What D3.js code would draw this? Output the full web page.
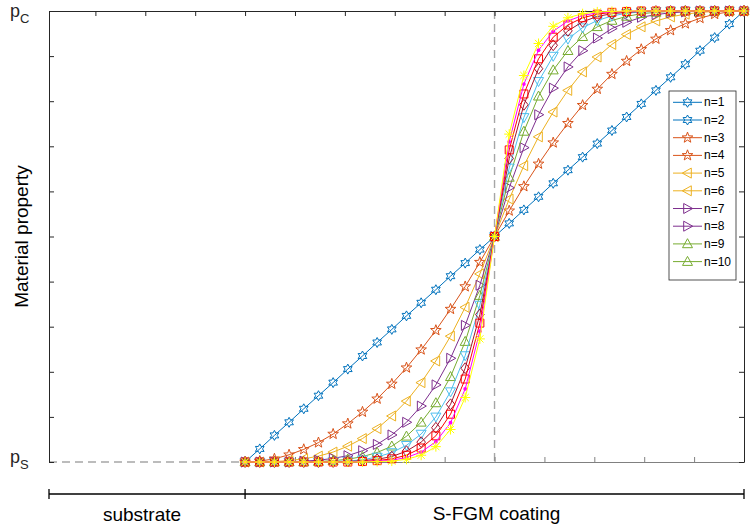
<!DOCTYPE html>
<html>
<head>
<meta charset="utf-8">
<script src="https://cdn.jsdelivr.net/npm/d3@7"></script>
<style>
  html, body { margin: 0; padding: 0; background: #fff; }
  svg { display: block; font-family: "Liberation Sans", Arial, sans-serif; }
</style>
</head>
<body>
<svg id="chart" width="755" height="528"></svg>
<script>
// Normalised position through the S-FGM coating thickness
const positions = [0, 0.0294, 0.0588, 0.0882, 0.1176, 0.1471, 0.1765, 0.2059, 0.2353, 0.2647,
  0.2941, 0.3235, 0.3529, 0.3824, 0.4118, 0.4412, 0.4706, 0.5, 0.5294, 0.5588, 0.5882, 0.6176,
  0.6471, 0.6765, 0.7059, 0.7353, 0.7647, 0.7941, 0.8235, 0.8529, 0.8824, 0.9118, 0.9412, 0.9706, 1];

// Normalised material property (0 = p_S, 1 = p_C) for each sigmoid exponent
const n1Values = [0, .029, .059, .088, .118, .147, .176, .206, .235, .265, .294, .324, .353, .382, .412, .441, .471, .5,
  .529, .559, .588, .618, .647, .676, .706, .735, .765, .794, .824, .853, .882, .912, .941, .971, 1];
const n2Values = [0, .002, .007, .016, .028, .043, .062, .085, .111, .140, .173, .209, .249, .292, .339, .389, .443, .5,
  .557, .611, .661, .708, .751, .791, .827, .860, .889, .915, .938, .957, .972, .984, .993, .998, 1];
const n3Values = [0, 0, .001, .003, .007, .013, .022, .035, .052, .074, .102, .135, .176, .224, .279, .343, .417, .5,
  .583, .657, .721, .776, .824, .865, .898, .926, .948, .965, .978, .987, .993, .997, .999, 1, 1];
const n4Values = [0, 0, 0, 0, .002, .004, .008, .014, .025, .039, .060, .088, .124, .171, .230, .303, .392, .5,
  .608, .697, .770, .829, .876, .912, .940, .961, .975, .986, .992, .996, .998, 1, 1, 1, 1];
const n5Values = [0, 0, 0, 0, 0, .001, .003, .006, .012, .021, .035, .057, .088, .131, .189, .267, .369, .5,
  .631, .733, .811, .869, .912, .943, .965, .979, .988, .994, .997, .999, 1, 1, 1, 1, 1];
const n6Values = [0, 0, 0, 0, 0, 0, .001, .002, .005, .011, .021, .037, .062, .100, .156, .236, .348, .5,
  .652, .764, .844, .900, .938, .963, .979, .989, .995, .998, .999, 1, 1, 1, 1, 1, 1];
const n7Values = [0, 0, 0, 0, 0, 0, 0, .001, .003, .006, .012, .024, .044, .076, .128, .208, .327, .5,
  .673, .792, .872, .924, .956, .976, .988, .994, .997, .999, 1, 1, 1, 1, 1, 1, 1];
const n8Values = [0, 0, 0, 0, 0, 0, 0, 0, .001, .003, .007, .015, .031, .058, .106, .184, .308, .5,
  .692, .816, .894, .942, .969, .985, .993, .997, .999, 1, 1, 1, 1, 1, 1, 1, 1];
const n9Values = [0, 0, 0, 0, 0, 0, 0, 0, .001, .002, .004, .010, .022, .045, .087, .162, .290, .5,
  .710, .838, .913, .955, .978, .990, .996, .998, .999, 1, 1, 1, 1, 1, 1, 1, 1];
const n10Values = [0, 0, 0, 0, 0, 0, 0, 0, 0, .001, .002, .006, .015, .034, .072, .143, .273, .5,
  .727, .857, .928, .966, .985, .994, .998, .999, 1, 1, 1, 1, 1, 1, 1, 1, 1];

const seriesValues = [n1Values, n2Values, n3Values, n4Values, n5Values,
  n6Values, n7Values, n8Values, n9Values, n10Values];
const seriesColors = ["#0072BD", "#D95319", "#EDB120", "#7E2F8E", "#77AC30",
  "#4DBEEE", "#A2142F", "#FF0000", "#FF00FF", "#FFFF00"];
const seriesMarkers = ["hexagram", "pentagram", "left", "right", "up",
  "down", "diamond", "square", "dot", "asterisk"];

// Legend entries (colours/markers come in pairs)
const legendLabels = ["n=1", "n=2", "n=3", "n=4", "n=5", "n=6", "n=7", "n=8", "n=9", "n=10"];
const legendStyle = [0, 0, 1, 1, 2, 2, 3, 3, 4, 4];

const xTickValues = [-0.3, -0.2, -0.1, 0, 0.1, 0.2, 0.3, 0.4, 0.5, 0.6, 0.7, 0.8, 0.9, 1];
const coatTickValues = [0, 0.1, 0.2, 0.3, 0.4, 0.5, 0.6, 0.7, 0.8, 0.9, 1];
const yTickValues = [0, 0.1, 0.2, 0.3, 0.4, 0.5, 0.6, 0.7, 0.8, 0.9, 1];
const xStart = -0.393;

const svg = d3.select("#chart");
const x = d3.scaleLinear().domain([xStart, 1]).range([49, 744]);
const y = d3.scaleLinear().domain([0, 1]).range([462, 11]);
const axisColor = "#262626";

function starPath(points, R, r) {
  const pts = [];
  for (let k = 0; k < points * 2; k++) {
    const a = -Math.PI / 2 + k * Math.PI / points;
    const rad = k % 2 === 0 ? R : r;
    pts.push([rad * Math.cos(a), rad * Math.sin(a)]);
  }
  return "M" + pts.map(p => p[0].toFixed(2) + "," + p[1].toFixed(2)).join("L") + "Z";
}
function markerPath(type) {
  switch (type) {
    case "hexagram": return starPath(6, 5, 2.8);
    case "pentagram": return starPath(5, 5.6, 2.3);
    case "up": return "M0,-5.2L5,3.8L-5,3.8Z";
    case "down": return "M0,5.2L5,-3.8L-5,-3.8Z";
    case "left": return "M-5.2,0L3.8,-5L3.8,5Z";
    case "right": return "M5.2,0L-3.8,-5L-3.8,5Z";
    case "diamond": return "M0,-5.4L4.3,0L0,5.4L-4.3,0Z";
    case "square": return "M-4,-4L4,-4L4,4L-4,4Z";
    case "asterisk": return "M-5,0L5,0M0,-5L0,5M-3.6,-3.6L3.6,3.6M-3.6,3.6L3.6,-3.6";
    default: return "";
  }
}
function drawMarker(g, type, color) {
  if (type === "dot") {
    g.append("circle").attr("r", 1.9).attr("fill", color);
  } else {
    g.append("path").attr("d", markerPath(type))
      .attr("fill", "none").attr("stroke", color).attr("stroke-width", 1);
  }
}

// Reference dashed lines: substrate level and coating mid-plane
svg.append("line")
  .attr("x1", x(xStart)).attr("x2", x(0)).attr("y1", y(0)).attr("y2", y(0))
  .attr("stroke", "#a6a6a6").attr("stroke-width", 1.4).attr("stroke-dasharray", "8,5");
svg.append("line")
  .attr("x1", x(0.5)).attr("x2", x(0.5)).attr("y1", y(1)).attr("y2", y(0))
  .attr("stroke", "#a6a6a6").attr("stroke-width", 1.4).attr("stroke-dasharray", "8,5");

// Axes frame with inward ticks and no tick labels
function styleAxis(g, color) {
  g.selectAll("path.domain").attr("stroke", color).attr("stroke-width", 1);
  g.selectAll(".tick line").attr("stroke", color).attr("stroke-width", 1);
  g.selectAll(".tick text").remove();
}
const coatScale = d3.scaleLinear().domain([0, 1]).range([x(0), x(1)]);
svg.append("g").attr("transform", `translate(0,${y(0)})`)
  .call(d3.axisBottom(coatScale).tickValues(coatTickValues).tickSize(-5).tickSizeOuter(0).tickFormat(""))
  .call(g => styleAxis(g, "#808080"));
svg.append("g").attr("transform", `translate(0,${y(1)})`)
  .call(d3.axisTop(x).tickValues(xTickValues).tickSize(-5).tickSizeOuter(0).tickFormat(""))
  .call(g => styleAxis(g, axisColor));
svg.append("g").attr("transform", `translate(${x(xStart)},0)`)
  .call(d3.axisLeft(y).tickValues(yTickValues).tickSize(-5).tickSizeOuter(0).tickFormat(""))
  .call(g => styleAxis(g, axisColor));
svg.append("g").attr("transform", `translate(${x(1)},0)`)
  .call(d3.axisRight(y).tickValues(yTickValues).tickSize(-5).tickSizeOuter(0).tickFormat(""))
  .call(g => styleAxis(g, axisColor));

// Property profiles
const line = d3.line().x((d, i) => x(positions[i])).y(d => y(d));
seriesValues.forEach((vals, s) => {
  const g = svg.append("g").attr("class", "series");
  g.append("path").datum(vals).attr("d", line)
    .attr("fill", "none").attr("stroke", seriesColors[s]).attr("stroke-width", 1);
  vals.forEach((v, i) => {
    const m = g.append("g").attr("transform", `translate(${x(positions[i])},${y(v)})`);
    drawMarker(m, seriesMarkers[s], seriesColors[s]);
  });
});

// Legend
const legend = svg.append("g").attr("transform", "translate(669,91)");
legend.append("rect").attr("width", 67).attr("height", 189)
  .attr("fill", "#fff").attr("stroke", axisColor).attr("stroke-width", 0.8);
legendLabels.forEach((label, i) => {
  const row = legend.append("g").attr("transform", `translate(0,${11.3 + i * 17.7})`);
  const st = legendStyle[i];
  row.append("line").attr("x1", 4).attr("x2", 33).attr("y1", 0).attr("y2", 0)
    .attr("stroke", seriesColors[st]).attr("stroke-width", 1);
  const m = row.append("g").attr("transform", "translate(18.5,0)");
  drawMarker(m, seriesMarkers[st], seriesColors[st]);
  row.append("text").attr("x", 35).attr("y", 4).attr("font-size", 12)
    .attr("fill", "#000").text(label);
});

// Property level labels
const pc = svg.append("text").attr("x", 10).attr("y", 17).attr("fill", axisColor).attr("font-size", 18);
pc.append("tspan").text("p");
pc.append("tspan").attr("font-size", 13).attr("dy", 6).text("C");
const ps = svg.append("text").attr("x", 10).attr("y", 463).attr("fill", axisColor).attr("font-size", 18);
ps.append("tspan").text("p");
ps.append("tspan").attr("font-size", 13).attr("dy", 6).text("S");

// Y axis title
svg.append("text")
  .attr("transform", `translate(28,${(y(0) + y(1)) / 2}) rotate(-90)`)
  .attr("text-anchor", "middle").attr("font-size", 19).attr("fill", "#000")
  .text("Material property");

// Layer bracket below the plot
const bracketY = 494;
svg.append("line").attr("x1", x(xStart)).attr("x2", x(1)).attr("y1", bracketY).attr("y2", bracketY)
  .attr("stroke", "#000").attr("stroke-width", 1.3);
[xStart, 0, 1].forEach(v => {
  svg.append("line").attr("x1", x(v)).attr("x2", x(v)).attr("y1", bracketY - 5).attr("y2", bracketY + 5)
    .attr("stroke", "#000").attr("stroke-width", 1.3);
});
svg.append("text").attr("x", (x(xStart) + x(0)) / 2 - 5).attr("y", 521)
  .attr("text-anchor", "middle").attr("font-size", 19).attr("fill", "#000").text("substrate");
svg.append("text").attr("x", (x(0) + x(1)) / 2 + 2).attr("y", 520)
  .attr("text-anchor", "middle").attr("font-size", 19).attr("fill", "#000").text("S-FGM coating");
</script>
</body>
</html>
